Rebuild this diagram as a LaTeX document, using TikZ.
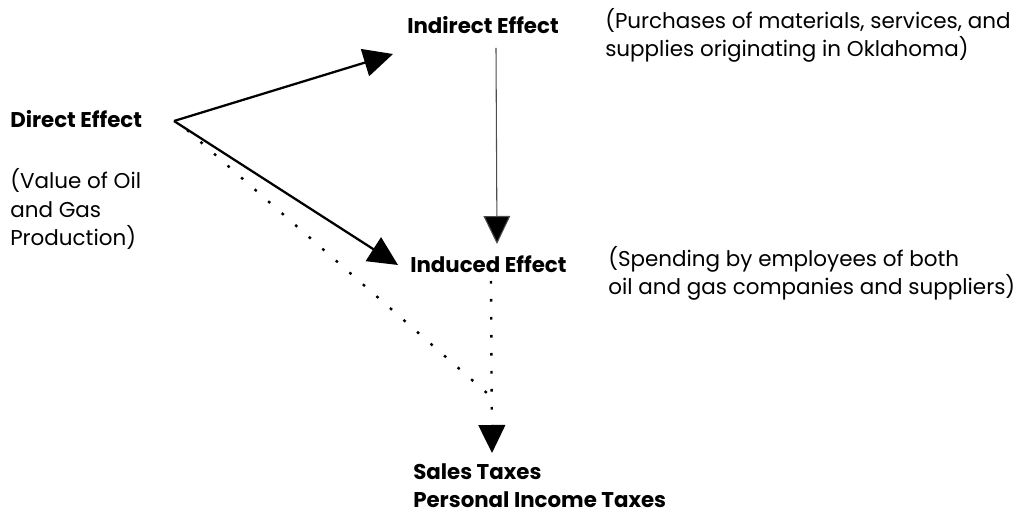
\documentclass[tikz,border=0pt]{standalone}
\usepackage{fontspec}
\setmainfont{Poppins}
\usetikzlibrary{arrows.meta}
\tikzset{
  px/.style={x=0.75pt,y=-0.75pt},
  head/.style={text=black,font=\fontsize{16}{21}\selectfont\bfseries,inner sep=0pt,anchor=base west},
  note/.style={text=black,font=\fontsize{16.1}{21.5}\selectfont,inner sep=0pt,align=left,anchor=base west},
  arr/.style={line width=1.7pt,-{Triangle[length=22pt,width=21pt]}},
  thinarr/.style={line width=0.8pt,draw=black!70,-{Triangle[length=21pt,width=20pt,fill=black]}},
  dotarr/.style={line width=1.8pt,dash pattern=on 2pt off 11.5pt,-{Triangle[length=21pt,width=20pt]}},
  dotline/.style={line width=1.8pt,dash pattern=on 2pt off 11.5pt},
}
\begin{document}
\begin{tikzpicture}[px]
\useasboundingbox (0,0) rectangle (1021,516);
\node[head] (direct) at (10,128) {Direct Effect};
\node[note] (value) at (10,246) {(Value of Oil\\and Gas\\Production)};
\node[head] (indirect) at (407,34) {Indirect Effect};
\node[note] (purch) at (605,57) {(Purchases of materials, services, and\\supplies originating in Oklahoma)};
\node[head] (induced) at (410,273) {Induced Effect};
\node[note] (spend) at (608,295) {(Spending by employees of both\\oil and gas companies and suppliers)};
\node[head,align=left] (taxes) at (413,508) {Sales Taxes\\Personal Income Taxes};
\coordinate (v) at (174,121);
\coordinate (t1) at (393,54);
\coordinate (t2) at (398,265);
\coordinate (vs) at (496,48);
\coordinate (vt) at (497,244);
\coordinate (d0) at (187,130);
\coordinate (d1) at (488,394);
\coordinate (e0) at (491,281);
\coordinate (e1) at (492,453);
\draw[arr] (v) -- (t1);
\draw[arr] (v) -- (t2);
\draw[thinarr] (vs) -- (vt);
\draw[dotline] (d0) -- (d1);
\draw[dotarr] (e0) -- (e1);
\end{tikzpicture}
\end{document}
